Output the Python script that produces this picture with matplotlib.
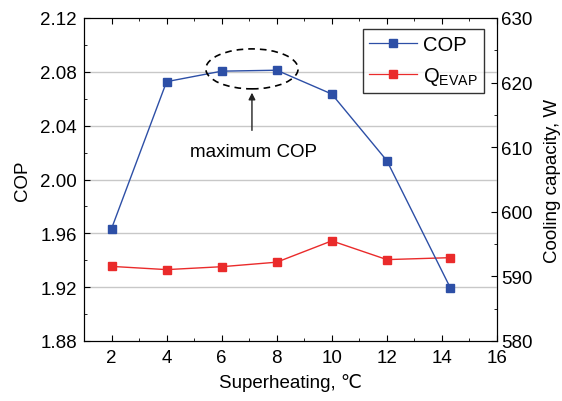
import matplotlib
matplotlib.use("Agg")
import matplotlib.pyplot as plt
from matplotlib.patches import Ellipse
from matplotlib.ticker import MultipleLocator

plt.rcParams['font.family'] = ['Liberation Sans', 'DejaVu Sans']
plt.rcParams['mathtext.fontset'] = 'custom'
plt.rcParams['mathtext.rm'] = 'Liberation Sans'
plt.rcParams['mathtext.it'] = 'Liberation Sans:italic'

superheat = [2, 4, 6, 8, 10, 12, 14.3]
cop = [1.9635, 2.0727, 2.0805, 2.0812, 2.0635, 2.014, 1.9197]
q_evap = [591.55, 591.05, 591.5, 592.2, 595.5, 592.6, 592.9]

x_ticks = [2, 4, 6, 8, 10, 12, 14, 16]
cop_ticks = [1.88, 1.92, 1.96, 2.00, 2.04, 2.08, 2.12]
q_ticks = [580, 590, 600, 610, 620, 630]

blue = '#2d4fa6'
red = '#ea2b2b'
fs = 13.5

fig = plt.figure(figsize=(5.62, 4.02), dpi=100)
ax = fig.add_axes([84/562, 1-342/402, (497-84)/562, (342-19)/402])
ax2 = ax.twinx()

ax.set_xlim(1, 16)
ax.set_ylim(1.88, 2.12)
ax2.set_ylim(580, 630)

for v in cop_ticks[1:-1]:
    ax.axhline(v, color='#c8c8c8', lw=1.0, zorder=0)

l1, = ax.plot(superheat, cop, color=blue, lw=1.0, marker='s', ms=5.2,
              mfc=blue, mec=blue, zorder=3, label='COP')
l2, = ax2.plot(superheat, q_evap, color=red, lw=1.0, marker='s', ms=5.2,
               mfc=red, mec=red, zorder=3, label=r'Q$_{\mathrm{EVAP}}$')

ax.set_xticks(x_ticks)
ax.set_yticks(cop_ticks)
ax.set_yticklabels([f'{v:.2f}' for v in cop_ticks])
ax2.set_yticks(q_ticks)
ax.xaxis.set_minor_locator(MultipleLocator(1))
ax.yaxis.set_minor_locator(MultipleLocator(0.02))
ax2.yaxis.set_minor_locator(MultipleLocator(5))

ax.tick_params(which='both', direction='in', top=True, labelsize=fs)
ax.tick_params(axis='y', pad=5)
ax.tick_params(axis='x', pad=6)
ax.tick_params(which='major', length=4)
ax.tick_params(which='minor', length=2.5)
ax2.tick_params(which='both', direction='in', labelsize=fs, pad=3)
ax2.tick_params(which='major', length=4)
ax2.tick_params(which='minor', length=2.5)

ax.set_xlabel('Superheating, ℃', fontsize=fs, labelpad=5)
ax.set_ylabel('COP', fontsize=fs, labelpad=7)
ax2.set_ylabel('Cooling capacity, W', fontsize=fs, labelpad=8)

ell = Ellipse((7.1, 2.0822), width=3.35, height=0.0297, fill=False,
              ls=(0, (4, 3)), lw=1.2, color='black', zorder=4)
ax.add_patch(ell)
ax.annotate('', xy=(7.1, 2.0645), xytext=(7.1, 2.0365),
            arrowprops=dict(arrowstyle='-|>', color='#222222', lw=1.0,
                            mutation_scale=10, shrinkA=0, shrinkB=0))
ax.text(7.15, 2.0205, 'maximum COP', ha='center', va='center', fontsize=fs)

leg = ax.legend(handles=[l1, l2], loc='upper right',
                bbox_to_anchor=(0.968, 0.966), fontsize=fs + 1,
                frameon=True, fancybox=False, edgecolor='black',
                handlelength=2.4, borderpad=0.3, labelspacing=0.55,
                handletextpad=0.3, borderaxespad=0)
leg.get_frame().set_linewidth(1.0)
for line in leg.get_lines():
    line.set_linewidth(0.9)
ax.set_zorder(ax2.get_zorder() + 1)
ax.patch.set_visible(False)

fig.savefig('out.png', dpi=100)
